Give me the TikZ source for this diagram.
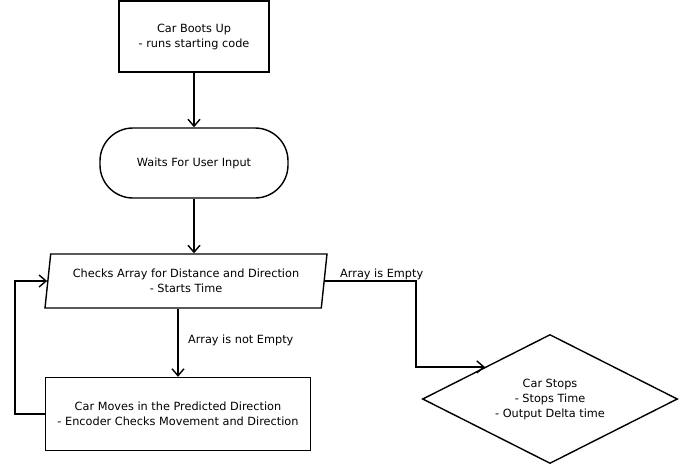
\documentclass[tikz,border=0pt]{standalone}
\usepackage{fontspec}
\setmainfont{DejaVu Sans}
\usetikzlibrary{shapes.geometric,arrows.meta,calc}
\begin{document}
\begin{tikzpicture}[x=1pt,y=-1pt,
  box/.style={draw, line width=1.4pt, align=center, font=\fontsize{11.3}{15}\selectfont, inner sep=0pt},
  conn/.style={line width=1.4pt, -{Straight Barb[length=7pt,width=12pt]}},
  lbl/.style={font=\fontsize{11.3}{13}\selectfont, inner sep=0pt}]
\useasboundingbox[fill=white] (0,0) rectangle (680,466);
\node[box, minimum width=150pt, minimum height=71pt] (boot) at (194,36.5) {Car Boots Up\\- runs starting code};
\node[box, rounded corners=33pt, minimum width=188pt, minimum height=70pt] (wait) at (194,163) {Waits For User Input};
\node[box, trapezium, trapezium left angle=76.5, trapezium right angle=103.5, trapezium stretches body, minimum width=282pt, minimum height=54pt] (check) at (186,281) {Checks Array for Distance and Direction\\- Starts Time};
\node[box, minimum width=265pt, minimum height=73pt] (move) at (178,414) {Car Moves in the Predicted Direction\\- Encoder Checks Movement and Direction};
\node[box, diamond, shape aspect=2, minimum width=255pt, minimum height=129pt] (stop) at (550,399) {Car Stops\\- Stops Time\\- Output Delta time};
\coordinate (se) at ($(stop.west)!0.492!(stop.north)$);
\coordinate (bend) at (416,300);
\coordinate (loopx) at (15,300);
\draw[conn] (boot.south) -- (wait.north);
\draw[conn] (wait.south) -- (wait.south |- check.north);
\draw[conn] (move.north |- check.south) -- (move.north);
\draw[conn] (move.west) -- (move.west -| loopx) |- (check.west);
\draw[conn] (check.east) -- (check.east -| bend) -- (bend |- se) -- (se);
\node[lbl, anchor=west] (l1) at (188,340) {Array is not Empty};
\node[lbl, anchor=base west] (l2) at (340,277) {Array is Empty};
\end{tikzpicture}
\end{document}
